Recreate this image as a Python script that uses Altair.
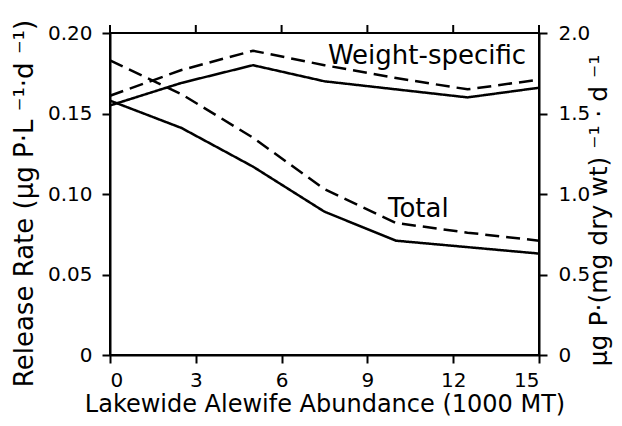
import altair as alt
import pandas as pd

# Lakewide alewife abundance (1000 MT)
x_vals = [0, 2.5, 5, 7.5, 10, 12.5, 15]

# Total release rate (ug P L-1 d-1), left axis
total_solid = [0.158, 0.141, 0.117, 0.089, 0.071, 0.067, 0.063]
total_dashed = [0.183, 0.162, 0.135, 0.103, 0.082, 0.076, 0.071]

# Weight-specific release rate (ug P (mg dry wt)-1 d-1), right axis
weight_solid = [1.55, 1.69, 1.80, 1.70, 1.65, 1.60, 1.66]
weight_dashed = [1.61, 1.77, 1.89, 1.80, 1.72, 1.65, 1.71]

x_ticks = [0, 3, 6, 9, 12, 15]
left_ticks = [0, 0.05, 0.10, 0.15, 0.20]
right_ticks = [0, 0.5, 1.0, 1.5, 2.0]

label_text = ["Weight-specific", "Total"]
label_x = [7.62, 9.72]
label_y = [0.181, 0.0857]

FONT = "DejaVu Sans"

total_df = pd.DataFrame({
    "x": x_vals * 2,
    "y": total_solid + total_dashed,
    "style": ["solid"] * len(x_vals) + ["dashed"] * len(x_vals),
})
weight_df = pd.DataFrame({
    "x": x_vals * 2,
    "y": weight_solid + weight_dashed,
    "style": ["solid"] * len(x_vals) + ["dashed"] * len(x_vals),
})
label_df = pd.DataFrame({"label": label_text, "x": label_x, "y": label_y})
tick_df = pd.DataFrame({"x": x_ticks})

dash = alt.StrokeDash("style:N", scale=alt.Scale(domain=["solid", "dashed"], range=[[1, 0], [14, 7]]), legend=None)
xscale = alt.Scale(domain=[0, 15], nice=False, zero=False)

x_enc = alt.X("x:Q", scale=xscale, axis=alt.Axis(
    values=x_ticks, title="Lakewide Alewife Abundance (1000 MT)",
    labelPadding=7, titleFontSize=24, titleY=56, titleBaseline="alphabetic"))

total_lines = alt.Chart(total_df).mark_line(color="black", strokeWidth=2.5).encode(
    x=x_enc,
    y=alt.Y("y:Q", scale=alt.Scale(domain=[0, 0.2], nice=False), axis=alt.Axis(
        orient="left", values=left_ticks,
        labelExpr="datum.value == 0 ? '0' : format(datum.value, '.2f')",
        labelPadding=10,
        title="Release Rate (µg P·L ⁻¹·d ⁻¹)", titleFontSize=26,
        titleAngle=-90, titleX=-86, titleY=170, titleBaseline="middle", titleAlign="center")),
    strokeDash=dash,
    detail="style:N",
)

weight_lines = alt.Chart(weight_df).mark_line(color="black", strokeWidth=2.5).encode(
    x=alt.X("x:Q", scale=xscale),
    y=alt.Y("y:Q", scale=alt.Scale(domain=[0, 2], nice=False), axis=alt.Axis(
        orient="right", values=right_ticks,
        labelExpr="datum.value == 0 ? '0' : format(datum.value, '.1f')",
        labelPadding=11,
        title="µg P·(mg dry wt) ⁻¹ · d ⁻¹", titleFontSize=25,
        titleAngle=-90, titleX=59, titleY=177, titleBaseline="middle", titleAlign="center")),
    strokeDash=dash,
    detail="style:N",
)

labels = alt.Chart(label_df).mark_text(
    align="left", baseline="alphabetic", font=FONT, fontSize=26, color="black"
).encode(
    x=alt.X("x:Q", scale=xscale),
    y=alt.Y("y:Q", scale=alt.Scale(domain=[0, 0.2], nice=False), axis=None),
    text="label:N",
)

top_ticks = alt.Chart(tick_df).mark_rule(color="black", strokeWidth=2).encode(
    x=alt.X("x:Q", scale=xscale),
    y=alt.value(0),
    y2=alt.value(-8),
)

chart = alt.layer(total_lines, weight_lines, labels, top_ticks).resolve_scale(
    y="independent"
).properties(
    width=429, height=322,
    padding={"left": 102, "top": 25, "right": 75, "bottom": 63},
    autosize=alt.AutoSizeParams(type="none"),
    background="white",
).configure_view(
    stroke="black", strokeWidth=2
).configure_axis(
    grid=False,
    labelFont=FONT, titleFont=FONT,
    labelFontSize=20, titleFontSize=24,
    titleFontWeight="normal",
    labelColor="black", titleColor="black",
    domainColor="black", domainWidth=2,
    tickColor="black", tickWidth=2, tickSize=8,
)

chart.save("out.html", embed_options={"renderer": "svg", "actions": False})
